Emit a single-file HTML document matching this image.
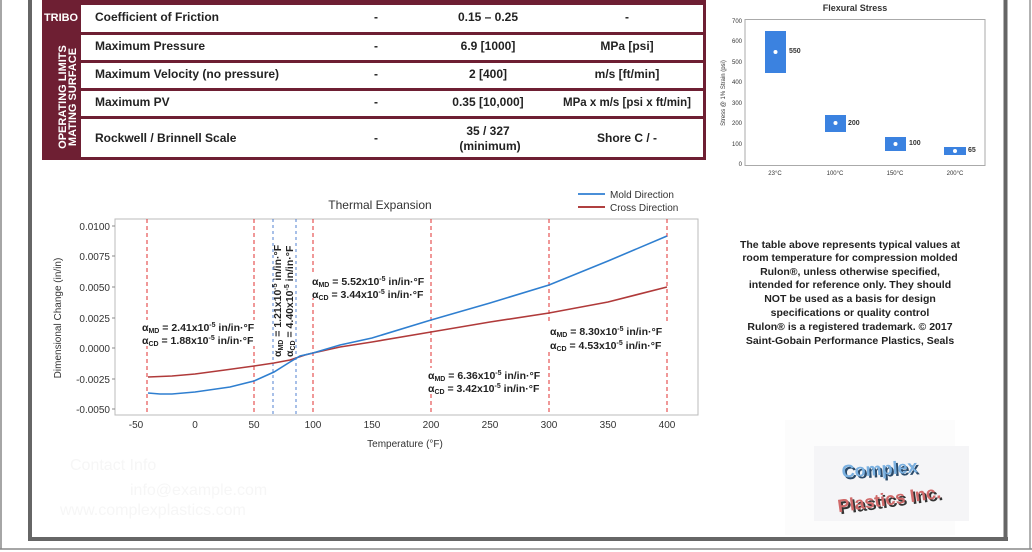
<!DOCTYPE html>
<html><head><meta charset="utf-8"><style>
html,body{margin:0;padding:0;background:#fff;}
body{width:1032px;height:552px;overflow:hidden;position:relative;font-family:"Liberation Sans",sans-serif;}
svg{position:absolute;left:0;top:0;}
</style></head><body>
<svg width="1032" height="552" viewBox="0 0 1032 552" xmlns="http://www.w3.org/2000/svg" font-family="Liberation Sans, sans-serif">
<line x1="1" y1="0" x2="1" y2="549" stroke="#888" stroke-width="1.5"/>
<line x1="1030" y1="0" x2="1030" y2="549" stroke="#999" stroke-width="1.5"/>
<line x1="0" y1="549" x2="1032" y2="549" stroke="#888" stroke-width="1.5"/>
<line x1="30" y1="0" x2="30" y2="540" stroke="#666" stroke-width="4"/>
<line x1="1005.5" y1="0" x2="1005.5" y2="540" stroke="#666" stroke-width="4"/>
<line x1="28" y1="539" x2="1008" y2="539" stroke="#666" stroke-width="4"/>

<rect x="42" y="0" width="664" height="160" fill="#6e1f33"/>
<rect x="81" y="5" width="622" height="27" fill="#fff"/>
<rect x="81" y="35" width="622" height="25" fill="#fff"/>
<rect x="81" y="63" width="622" height="25" fill="#fff"/>
<rect x="81" y="91" width="622" height="25" fill="#fff"/>
<rect x="81" y="119" width="622" height="38" fill="#fff"/>
<text x="61" y="21" fill="#fff" font-size="11" font-weight="bold" text-anchor="middle" textLength="34" lengthAdjust="spacingAndGlyphs">TRIBO</text>
<text transform="translate(66,97) rotate(-90)" fill="#fff" font-size="11" font-weight="bold" text-anchor="middle">OPERATING LIMITS</text>
<text transform="translate(76,97) rotate(-90)" fill="#fff" font-size="11" font-weight="bold" text-anchor="middle">MATING SURFACE</text>
<g font-size="12" font-weight="bold" fill="#222">
<text x="95" y="21">Coefficient of Friction</text>
<text x="95" y="50">Maximum Pressure</text>
<text x="95" y="78">Maximum Velocity (no pressure)</text>
<text x="95" y="106">Maximum PV</text>
<text x="95" y="142">Rockwell / Brinnell Scale</text>
<g text-anchor="middle">
<text x="376" y="21">-</text><text x="376" y="50">-</text><text x="376" y="78">-</text><text x="376" y="106">-</text><text x="376" y="142">-</text>
<text x="488" y="21">0.15 – 0.25</text>
<text x="488" y="50">6.9 [1000]</text>
<text x="488" y="78">2 [400]</text>
<text x="488" y="106">0.35 [10,000]</text>
<text x="488" y="135">35 / 327</text>
<text x="490" y="150">(minimum)</text>
<text x="627" y="21">-</text>
<text x="627" y="50">MPa [psi]</text>
<text x="627" y="78">m/s [ft/min]</text>
<text x="627" y="106" textLength="128" lengthAdjust="spacingAndGlyphs">MPa x m/s [psi x ft/min]</text>
<text x="627" y="142">Shore C / -</text>
</g></g>

<text x="855" y="11" font-size="9" font-weight="bold" fill="#333" text-anchor="middle">Flexural Stress</text>
<rect x="745" y="19.5" width="240" height="146" fill="none" stroke="#aaa" stroke-width="1"/>
<g font-size="6" fill="#333" text-anchor="end">
<text x="742" y="166">0</text><text x="742" y="146">100</text><text x="742" y="125">200</text><text x="742" y="105">300</text><text x="742" y="84">400</text><text x="742" y="64">500</text><text x="742" y="43">600</text><text x="742" y="23">700</text>
</g>
<text transform="translate(725,93) rotate(-90)" font-size="6" fill="#333" text-anchor="middle">Stress @ 1% Strain (psi)</text>
<g fill="#3b82e0">
<rect x="765" y="31" width="21" height="42"/>
<rect x="825" y="115" width="21" height="17"/>
<rect x="885" y="137" width="21" height="14"/>
<rect x="944" y="147" width="22" height="8"/>
</g>
<g fill="#fff"><circle cx="775.5" cy="52" r="2"/><circle cx="835.5" cy="123" r="2"/><circle cx="895.5" cy="144" r="2"/><circle cx="955" cy="151" r="2"/></g>
<g font-size="7" font-weight="bold" fill="#333">
<text x="789" y="53">550</text><text x="848" y="125">200</text><text x="909" y="145">100</text><text x="968" y="152">65</text>
</g>
<g font-size="6" fill="#333" text-anchor="middle">
<text x="775" y="175">23°C</text><text x="835" y="175">100°C</text><text x="895" y="175">150°C</text><text x="955" y="175">200°C</text>
</g>

<text x="380" y="209" font-size="12" fill="#333" text-anchor="middle">Thermal Expansion</text>
<line x1="578" y1="194" x2="605" y2="194" stroke="#4a8fd8" stroke-width="2"/>
<line x1="578" y1="207" x2="605" y2="207" stroke="#b04040" stroke-width="2"/>
<text x="610" y="198" font-size="10" fill="#333">Mold Direction</text>
<text x="610" y="211" font-size="10" fill="#333">Cross Direction</text>
<rect x="115" y="219" width="583" height="196" fill="none" stroke="#bbb" stroke-width="1"/>
<g font-size="10" fill="#333" text-anchor="end">
<text x="110" y="230">0.0100</text><text x="110" y="260">0.0075</text><text x="110" y="291">0.0050</text><text x="110" y="322">0.0025</text><text x="110" y="352">0.0000</text><text x="110" y="383">-0.0025</text><text x="110" y="413">-0.0050</text>
</g>
<g stroke="#888" stroke-width="1">
<line x1="112" y1="226" x2="115" y2="226"/><line x1="112" y1="256" x2="115" y2="256"/><line x1="112" y1="287" x2="115" y2="287"/><line x1="112" y1="318" x2="115" y2="318"/><line x1="112" y1="348" x2="115" y2="348"/><line x1="112" y1="379" x2="115" y2="379"/><line x1="112" y1="409" x2="115" y2="409"/>
</g>
<g font-size="10" fill="#333" text-anchor="middle">
<text x="136" y="428">-50</text><text x="195" y="428">0</text><text x="254" y="428">50</text><text x="313" y="428">100</text><text x="372" y="428">150</text><text x="431" y="428">200</text><text x="490" y="428">250</text><text x="549" y="428">300</text><text x="608" y="428">350</text><text x="667" y="428">400</text>
</g>
<text x="405" y="447" font-size="10" fill="#333" text-anchor="middle">Temperature (°F)</text>
<text transform="translate(61,318) rotate(-90)" font-size="10" fill="#333" text-anchor="middle">Dimensional Change (in/in)</text>

<g stroke="#e03030" stroke-width="1" stroke-dasharray="4,3" fill="none">
<line x1="147" y1="219" x2="147" y2="415"/>
<line x1="254" y1="219" x2="254" y2="415"/>
<line x1="313" y1="219" x2="313" y2="415"/>
<line x1="431" y1="219" x2="431" y2="415"/>
<line x1="549" y1="219" x2="549" y2="415"/>
<line x1="667" y1="219" x2="667" y2="415"/>
</g>
<g stroke="#5080d0" stroke-width="1" stroke-dasharray="3,3">
<line x1="273" y1="219" x2="273" y2="415"/>
<line x1="296" y1="219" x2="296" y2="415"/>
</g>
<polyline fill="none" stroke="#b03a3a" stroke-width="1.6" points="148,377 172,376 195,374 225,370 254,366 274,363 290,360 305,355 313,353 340,347 372,342 431,332 490,322 549,313 608,302 667,287"/>
<polyline fill="none" stroke="#2f7fd0" stroke-width="1.6" points="148,393 160,394 172,394 195,392 230,387 254,381 274,372 290,362 300,356 313,353 340,345 372,338 431,320 490,303 549,285 608,261 667,236"/>

<g font-size="10.5" font-weight="bold" fill="#222">
<rect x="140" y="320" width="125" height="26" fill="#fff"/>
<text x="142" y="331">α<tspan font-size="7" dy="2">MD</tspan><tspan dy="-2"> = 2.41x10</tspan><tspan font-size="7" dy="-4">-5</tspan><tspan dy="4"> in/in·°F</tspan></text>
<text x="142" y="344">α<tspan font-size="7" dy="2">CD</tspan><tspan dy="-2"> = 1.88x10</tspan><tspan font-size="7" dy="-4">-5</tspan><tspan dy="4"> in/in·°F</tspan></text>
<rect x="305" y="272" width="125" height="26" fill="#fff"/>
<text x="312" y="285">α<tspan font-size="7" dy="2">MD</tspan><tspan dy="-2"> = 5.52x10</tspan><tspan font-size="7" dy="-4">-5</tspan><tspan dy="4"> in/in·°F</tspan></text>
<text x="312" y="298">α<tspan font-size="7" dy="2">CD</tspan><tspan dy="-2"> = 3.44x10</tspan><tspan font-size="7" dy="-4">-5</tspan><tspan dy="4"> in/in·°F</tspan></text>
<rect x="420" y="368" width="125" height="26" fill="#fff"/>
<text x="428" y="379">α<tspan font-size="7" dy="2">MD</tspan><tspan dy="-2"> = 6.36x10</tspan><tspan font-size="7" dy="-4">-5</tspan><tspan dy="4"> in/in·°F</tspan></text>
<text x="428" y="392">α<tspan font-size="7" dy="2">CD</tspan><tspan dy="-2"> = 3.42x10</tspan><tspan font-size="7" dy="-4">-5</tspan><tspan dy="4"> in/in·°F</tspan></text>
<rect x="545" y="323" width="125" height="28" fill="#fff"/>
<text x="550" y="335">α<tspan font-size="7" dy="2">MD</tspan><tspan dy="-2"> = 8.30x10</tspan><tspan font-size="7" dy="-4">-5</tspan><tspan dy="4"> in/in·°F</tspan></text>
<text x="550" y="349">α<tspan font-size="7" dy="2">CD</tspan><tspan dy="-2"> = 4.53x10</tspan><tspan font-size="7" dy="-4">-5</tspan><tspan dy="4"> in/in·°F</tspan></text>
<text transform="translate(281,357) rotate(-90)">α<tspan font-size="7" dy="2">MD</tspan><tspan dy="-2"> = 1.21x10</tspan><tspan font-size="7" dy="-4">-5</tspan><tspan dy="4"> in/in·°F</tspan></text>
<text transform="translate(293,357) rotate(-90)">α<tspan font-size="7" dy="2">CD</tspan><tspan dy="-2"> = 4.40x10</tspan><tspan font-size="7" dy="-4">-5</tspan><tspan dy="4"> in/in·°F</tspan></text>
</g>

<g font-size="10.5" font-weight="bold" fill="#222" text-anchor="middle">
<text x="850" y="248">The table above represents typical values at</text>
<text x="850" y="261">room temperature for compression molded</text>
<text x="850" y="275">Rulon®, unless otherwise specified,</text>
<text x="850" y="288">intended for reference only. They should</text>
<text x="850" y="302">NOT be used as a basis for design</text>
<text x="850" y="316">specifications or quality control</text>
<text x="850" y="330">Rulon® is a registered trademark. © 2017</text>
<text x="850" y="344">Saint-Gobain Performance Plastics, Seals</text>
</g>

<g font-size="16" fill="#f6f6f6">
<text x="70" y="470">Contact Info</text>
<text x="130" y="495">info@example.com</text>
<text x="60" y="515">www.complexplastics.com</text>
</g>

<rect x="785" y="420" width="170" height="115" fill="#fcfcfc"/>
<rect x="814" y="446" width="155" height="75" fill="#f5f5f7"/>
<g font-weight="bold" font-size="18" text-anchor="middle">
<text x="882" y="477" fill="#2a4a6a" transform="rotate(-4 882 477)">Complex</text>
<text x="880" y="475" fill="#7ab0e0" transform="rotate(-4 880 475)">Complex</text>
<text x="892" y="507" fill="#333" transform="rotate(-8 892 507)">Plastics Inc.</text>
<text x="890" y="505" fill="#d06a6a" transform="rotate(-8 890 505)">Plastics Inc.</text>
</g>
</svg>
</body></html>
